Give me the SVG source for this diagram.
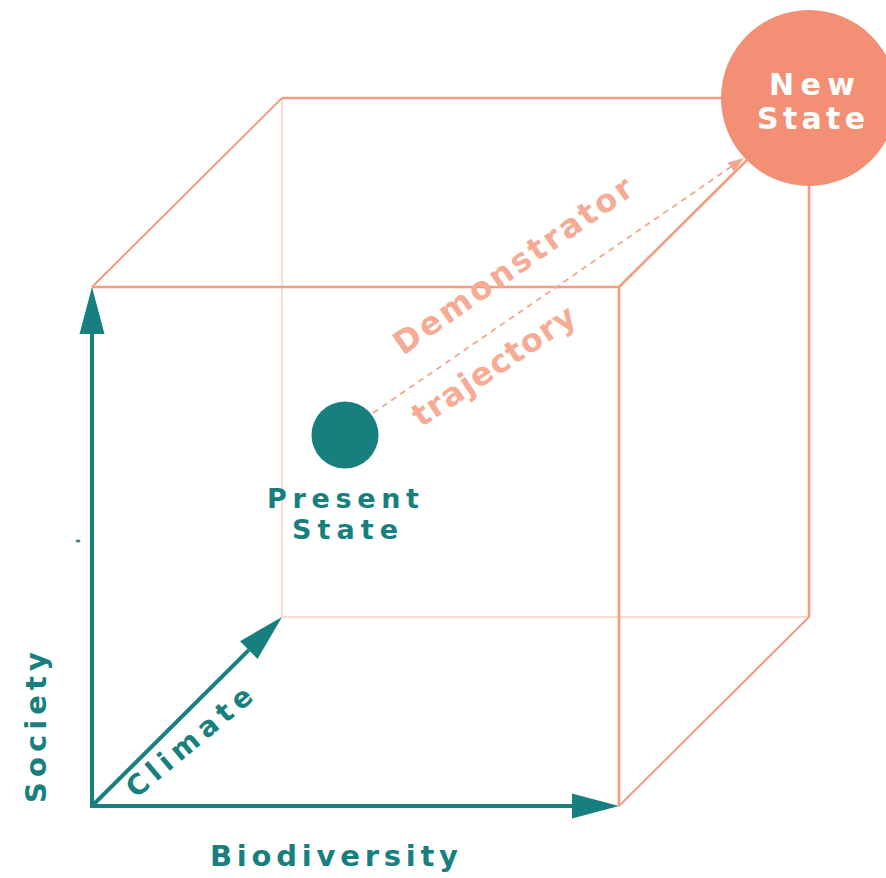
<svg xmlns="http://www.w3.org/2000/svg" width="886" height="878" viewBox="0 0 886 878">
  <style>
    .edge{fill:none;stroke:#F29C82;stroke-width:2.6}
    .edge-thin{fill:none;stroke:#F29C82;stroke-width:2}
    .edge-back{fill:none;stroke:#FBDCD1;stroke-width:2}
    .axis{fill:none;stroke:#17807F;stroke-width:4}
    .traj{fill:none;stroke:#F2A690;stroke-width:1.8;stroke-dasharray:6 5}
    .lbl{font-family:"DejaVu Sans","Liberation Sans",sans-serif;font-weight:bold;fill:#17807F}
    .lbl-w{font-family:"DejaVu Sans","Liberation Sans",sans-serif;font-weight:bold;fill:#FFFFFF}
    .lbl-s{font-family:"DejaVu Sans","Liberation Sans",sans-serif;font-weight:bold;fill:#F5AB94}
  </style>
  <defs>
    <marker id="tealHead" viewBox="0 -13 47 26" markerWidth="47" markerHeight="26" refX="0" refY="0" orient="auto" markerUnits="userSpaceOnUse">
      <path d="M0,-12.5 L47,0 L0,12.5 Z" fill="#17807F"/>
    </marker>
    <marker id="salmonHead" viewBox="0 -6 16 12" markerWidth="16" markerHeight="12" refX="16" refY="0" orient="auto" markerUnits="userSpaceOnUse">
      <path d="M0,-5.5 L16,0 L0,5.5 Z" fill="#F2A690"/>
    </marker>
  </defs>
  <rect width="886" height="878" fill="#FFFFFF"/>

  <g id="connectors">
    <line class="edge-back" x1="282" y1="98" x2="282" y2="617"/>
    <line class="edge-back" x1="282" y1="617" x2="809" y2="617"/>
    <line class="edge" x1="282" y1="98" x2="725" y2="98"/>
    <line class="edge" x1="809" y1="180" x2="809" y2="617"/>
    <line class="edge-thin" x1="92" y1="287" x2="282" y2="98"/>
    <line class="edge" x1="619" y1="287" x2="750" y2="157"/>
    <line class="edge-thin" x1="619" y1="806" x2="809" y2="617"/>
    <line class="edge" x1="92" y1="287" x2="619" y2="287"/>
    <line class="edge" x1="619" y1="287" x2="619" y2="806"/>
    <path class="axis" d="M92,808 L92,334" marker-end="url(#tealHead)"/>
    <path class="axis" d="M90,806 L572,806" marker-end="url(#tealHead)"/>
    <path class="axis" d="M92,806 L248.7,650.1" marker-end="url(#tealHead)"/>
    <path class="traj" d="M373,413 L744,158" marker-end="url(#salmonHead)"/>
  </g>

  <g id="new-state">
    <circle cx="809" cy="98" r="88" fill="#F28F74"/>
    <text class="lbl-w" x="812" y="95" font-size="30" text-anchor="middle" textLength="86" lengthAdjust="spacing">New</text>
    <text class="lbl-w" x="811" y="129" font-size="30" text-anchor="middle" textLength="108" lengthAdjust="spacing">State</text>
  </g>

  <g id="present-state">
    <circle cx="345" cy="435" r="33.5" fill="#17807F"/>
    <text class="lbl" x="343" y="508" font-size="27" text-anchor="middle" textLength="152" lengthAdjust="spacing">Present</text>
    <text class="lbl" x="345" y="539" font-size="27" text-anchor="middle" textLength="106" lengthAdjust="spacing">State</text>
  </g>

  <g id="trajectory-label">
    <text class="lbl-s" transform="translate(403,356) rotate(-35)" font-size="32" textLength="284" lengthAdjust="spacing">Demonstrator</text>
    <text class="lbl-s" transform="translate(421,428) rotate(-34)" font-size="32" textLength="190" lengthAdjust="spacing">trajectory</text>
  </g>

  <g id="axis-society">
    <text class="lbl" transform="translate(46,803) rotate(-90)" font-size="29" textLength="151" lengthAdjust="spacing">Society</text>
  </g>
  <g id="axis-biodiversity">
    <text class="lbl" x="210" y="866" font-size="29" textLength="248" lengthAdjust="spacing">Biodiversity</text>
  </g>
  <g id="axis-climate">
    <text class="lbl" transform="translate(136,799) rotate(-40)" font-size="28" textLength="155" lengthAdjust="spacing">Climate</text>
  </g>

  <ellipse cx="78" cy="541" rx="2.5" ry="1.5" fill="#4A7F7F"/>
</svg>
